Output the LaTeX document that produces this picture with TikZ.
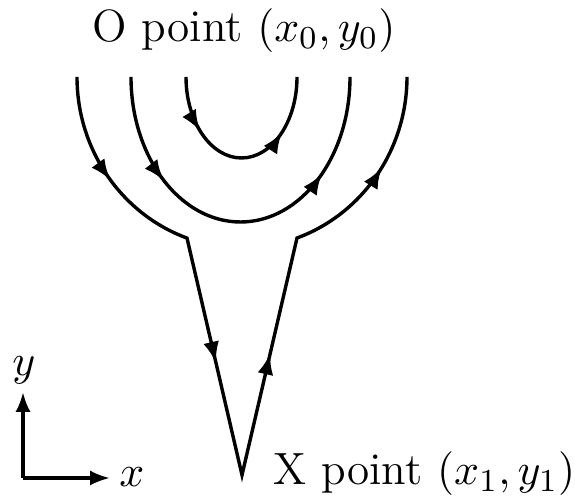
\documentclass[tikz,border=0pt]{standalone}
\usetikzlibrary{arrows.meta,decorations.markings}
\begin{document}
\begin{tikzpicture}[x=0.25pt,y=0.25pt,
  line width=0.85pt,
  tipstyle/.style={arrows={-Latex[length=5pt,width=3.8pt]}},
  lbl/.style={inner sep=0pt,font=\fontsize{11.3}{13}\selectfont},
  marked/.style={postaction={decorate},decoration={markings,#1}},
]
\def\tiparrow{\arrow{Latex[length=5.2pt,width=4pt]}}
\useasboundingbox (0,0) rectangle (575,500);
% coordinates
\coordinate (itop) at (186,423);
\coordinate (mtop) at (131,423);
\coordinate (otopL) at (77,423);
\coordinate (cornerL) at (187,262);
\coordinate (tip) at (242,25);
\coordinate (cornerR) at (297,262);
% inner curve
\draw[marked={mark=at position 0.26 with {\tiparrow},
              mark=at position 0.73 with {\tiparrow}}]
  (itop) arc[start angle=180,end angle=360,x radius=13.875pt,y radius=20.25pt];
% middle curve
\draw[marked={mark=at position 0.275 with {\tiparrow},
              mark=at position 0.745 with {\tiparrow}}]
  (mtop) arc[start angle=180,end angle=360,x radius=27.375pt,y radius=36.25pt];
% outer curve with X point
\draw[line join=miter,
      marked={mark=at position 0.122 with {\tiparrow},
              mark=at position 0.372 with {\tiparrow},
              mark=at position 0.638 with {\tiparrow},
              mark=at position 0.894 with {\tiparrow}}]
  (otopL) arc[start angle=180,end angle=250.4,x radius=41.375pt,y radius=42.75pt]
  -- (tip) -- (cornerR)
  arc[start angle=289.6,end angle=360,x radius=41.375pt,y radius=42.75pt];
% labels
\node[lbl,anchor=base] (opt) at (244,458) {O point $(x_0,y_0)$};
\node[lbl,anchor=base west] (xpt) at (272,15) {X point $(x_1,y_1)$};
% axes
\coordinate (origin) at (23,22);
\coordinate (ytip) at (23,108);
\coordinate (xtip) at (110,22);
\draw[tipstyle] (origin) -- (ytip);
\draw[tipstyle] (origin) -- (xtip);
\node[lbl,anchor=base] (ylab) at (24,124) {$y$};
\node[lbl,anchor=base] (xlab) at (132,13) {$x$};
\end{tikzpicture}
\end{document}
